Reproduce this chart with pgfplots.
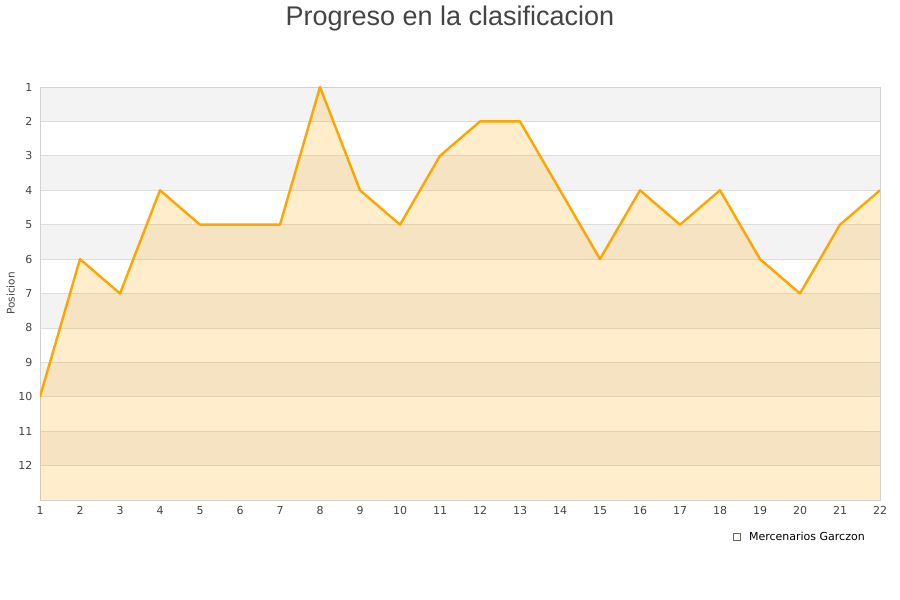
\documentclass[border=0pt]{standalone}
\usepackage{pgfplots}
\pgfplotsset{compat=1.18}
\usepackage{fontspec}
\setmainfont{DejaVu Sans}
\newfontfamily\titlefont{Liberation Sans}
\definecolor{lineorange}{RGB}{255,165,0}
\definecolor{band}{RGB}{243,243,243}
\definecolor{gridc}{RGB}{221,221,221}
\definecolor{framec}{RGB}{210,210,210}
\definecolor{tickc}{RGB}{68,68,68}
\definecolor{legfill}{RGB}{255,237,204}

\begin{document}
\begin{tikzpicture}
\begin{axis}[
    set layers,
    at={(40pt,100pt)}, anchor=south west,
    scale only axis, width=840pt, height=413pt,
    xmin=1, xmax=22, ymin=1, ymax=13, y dir=reverse,
    xtick={1,...,22}, ytick={1,...,12},
    major tick length=0pt,
    ymajorgrids, major grid style={gridc, line width=0.8pt},
    axis line style={framec, line width=0.8pt},
    /pgf/number format/assume math mode=true,
    tick label style={font=\fontsize{11}{13}\selectfont, text=tickc},
    y tick label style={xshift=-4pt},
    x tick label style={yshift=-3pt},
    ylabel={Posicion},
    ylabel style={font=\fontsize{10.5}{12}\selectfont, text=tickc, at={(axis description cs:-0.035,0.5)}, anchor=center},
    legend style={at={(axis description cs:0.988,-0.068)}, anchor=north east, draw=none, fill=none,
        font=\fontsize{11}{13}\selectfont},
    legend image code/.code={\draw[draw=gray!80!black, line width=0.6pt, fill=legfill] (0pt,-3.5pt) rectangle (7.5pt,4pt);
        \path (7.5pt,0pt) -- (14pt,0pt);},
]
% alternating background bands
\addplot[draw=none, fill=band, on layer=axis background, forget plot] coordinates {(1,1) (22,1) (22,2) (1,2)};
\addplot[draw=none, fill=band, on layer=axis background, forget plot] coordinates {(1,3) (22,3) (22,4) (1,4)};
\addplot[draw=none, fill=band, on layer=axis background, forget plot] coordinates {(1,5) (22,5) (22,6) (1,6)};
\addplot[draw=none, fill=band, on layer=axis background, forget plot] coordinates {(1,7) (22,7) (22,8) (1,8)};
\addplot[draw=none, fill=band, on layer=axis background, forget plot] coordinates {(1,9) (22,9) (22,10) (1,10)};
\addplot[draw=none, fill=band, on layer=axis background, forget plot] coordinates {(1,11) (22,11) (22,12) (1,12)};
% area
\addplot[draw=none, fill=lineorange, fill opacity=0.2] coordinates {
 (1,13) (1,10) (2,6) (3,7) (4,4) (5,5) (6,5) (7,5) (8,1) (9,4) (10,5) (11,3)
 (12,2) (13,2) (14,4) (15,6) (16,4) (17,5) (18,4) (19,6) (20,7) (21,5) (22,4) (22,13)};
\addlegendentry{Mercenarios Garczon}
% line
\addplot[lineorange, line width=2.4pt, line join=round, forget plot] coordinates {
 (1,10) (2,6) (3,7) (4,4) (5,5) (6,5) (7,5) (8,1) (9,4) (10,5) (11,3)
 (12,2) (13,2) (14,4) (15,6) (16,4) (17,5) (18,4) (19,6) (20,7) (21,5) (22,4)};
\end{axis}
\node[font=\titlefont\fontsize{27}{32}\selectfont, text=tickc, anchor=base] at (450pt,574pt) {Progreso en la clasificacion};
\path (0pt,0pt) rectangle (900pt,600pt);
\end{tikzpicture}
\end{document}
